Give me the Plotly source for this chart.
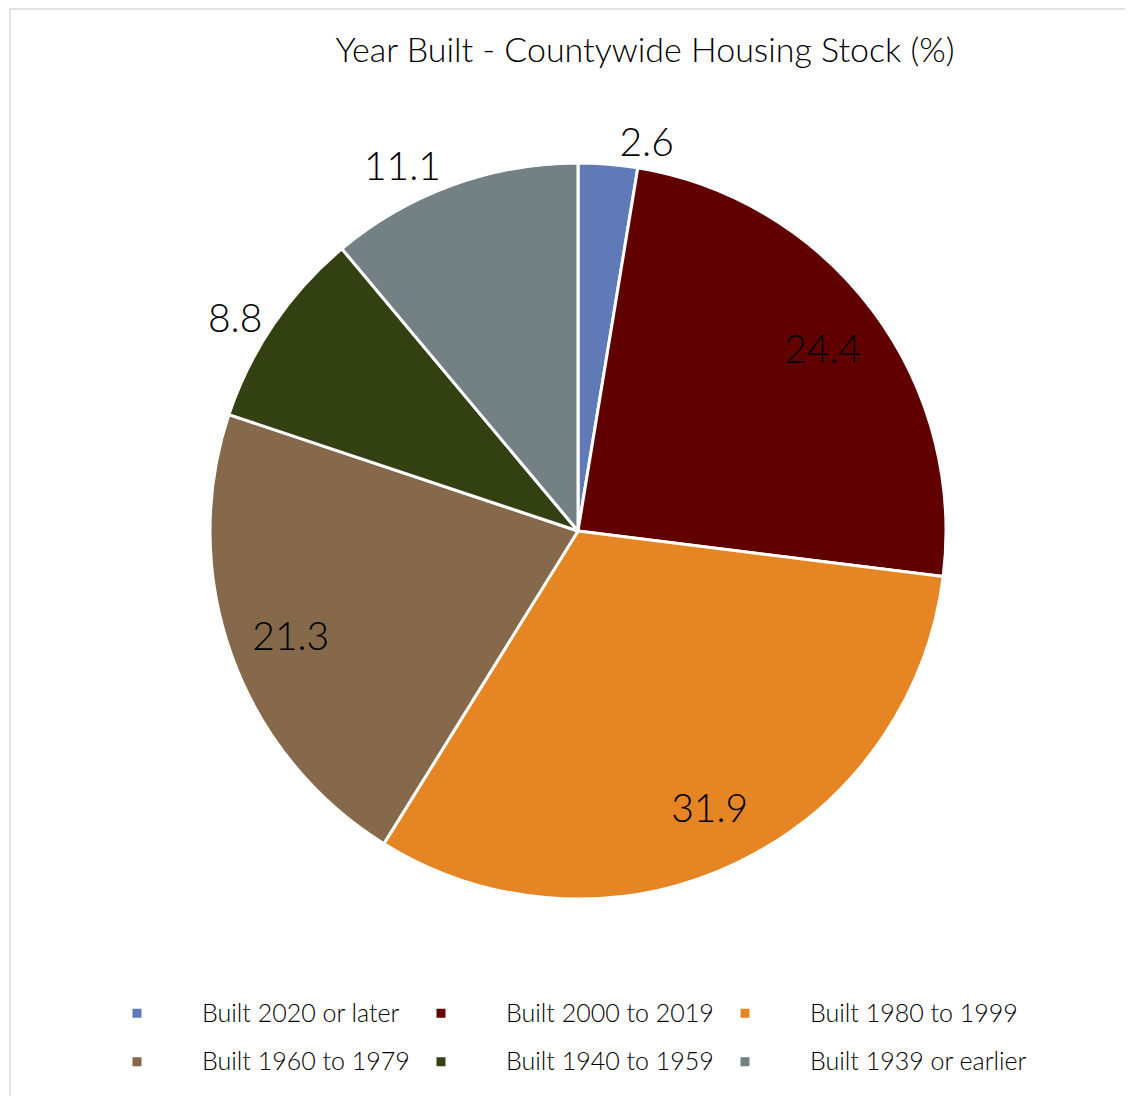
import plotly.graph_objects as go

categories = ["Built 2020 or later", "Built 2000 to 2019", "Built 1980 to 1999",
              "Built 1960 to 1979", "Built 1940 to 1959", "Built 1939 or earlier"]
values = [2.6, 24.4, 31.9, 21.3, 8.8, 11.1]
colors = ["#6079B7", "#600000", "#E68523", "#85694A", "#324012", "#738084"]
text_positions = ["outside", "inside", "inside", "inside", "outside", "outside"]

W, H = 1133, 1096
cx, cy, R = 570, 523, 368
FONT = "Lato"
dom = dict(x=[(cx - R) / W, (cx + R) / W], y=[(H - cy - R) / H, (H - cy + R) / H])

# legend labels rendered at 25px inside a taller legend row
legend_labels = ['<span style="font-size:25px;baseline-shift:5px">%s</span>' % c for c in categories]

# slices (text kept transparent so the radius matches the label ring trace)
fig = go.Figure(go.Pie(
    labels=legend_labels,
    values=values,
    sort=False,
    direction="clockwise",
    rotation=0,
    marker=dict(colors=colors, line=dict(color="white", width=3)),
    texttemplate="%{value}",
    textposition=["outside" if p == "outside" else "none" for p in text_positions],
    textfont=dict(family=FONT, size=39, color="rgba(0,0,0,0)"),
    domain=dom,
    showlegend=True,
))
# value labels: transparent ring so inside labels sit toward the rim
fig.add_trace(go.Pie(
    labels=legend_labels,
    values=values,
    sort=False,
    direction="clockwise",
    rotation=0,
    hole=0.66,
    marker=dict(colors=["rgba(0,0,0,0)"] * len(values), line=dict(width=0)),
    texttemplate="%{value}",
    textposition=text_positions,
    insidetextorientation="horizontal",
    textfont=dict(family=FONT, size=39, color="black", weight=300),
    domain=dom,
    showlegend=False,
    hoverinfo="skip",
))

fig.update_layout(
    width=W, height=H,
    margin=dict(l=0, r=0, t=0, b=0),
    paper_bgcolor="white",
    font=dict(family=FONT, color="black"),
    title=dict(text="Year Built - Countywide Housing Stock (%)", x=637 / W, xanchor="center",
               y=1 - 42 / H, yanchor="middle",
               font=dict(family=FONT, size=34, color="black", weight=300)),
    legend=dict(orientation="h", x=64 / W, xanchor="left", y=1 - 950 / H, yanchor="top",
                entrywidth=169, entrywidthmode="pixels", itemwidth=120,
                bgcolor="rgba(0,0,0,0)",
                # invisible spacer title widens the legend box so the last column is not clipped
                title=dict(text="\u00a0" * 180, side="top",
                           font=dict(family=FONT, size=20, color="rgba(0,0,0,0)")),
                font=dict(family=FONT, size=35, color="black", weight=300)),
    shapes=[
        dict(type="line", xref="paper", yref="paper", x0=2 / W, x1=1, y0=1 - 1 / H, y1=1 - 1 / H,
             line=dict(color="#D9D9D9", width=1.5)),
        dict(type="line", xref="paper", yref="paper", x0=2 / W, x1=2 / W, y0=0, y1=1 - 1 / H,
             line=dict(color="#D9D9D9", width=1.5)),
    ],
)

fig.write_html("out.html")
